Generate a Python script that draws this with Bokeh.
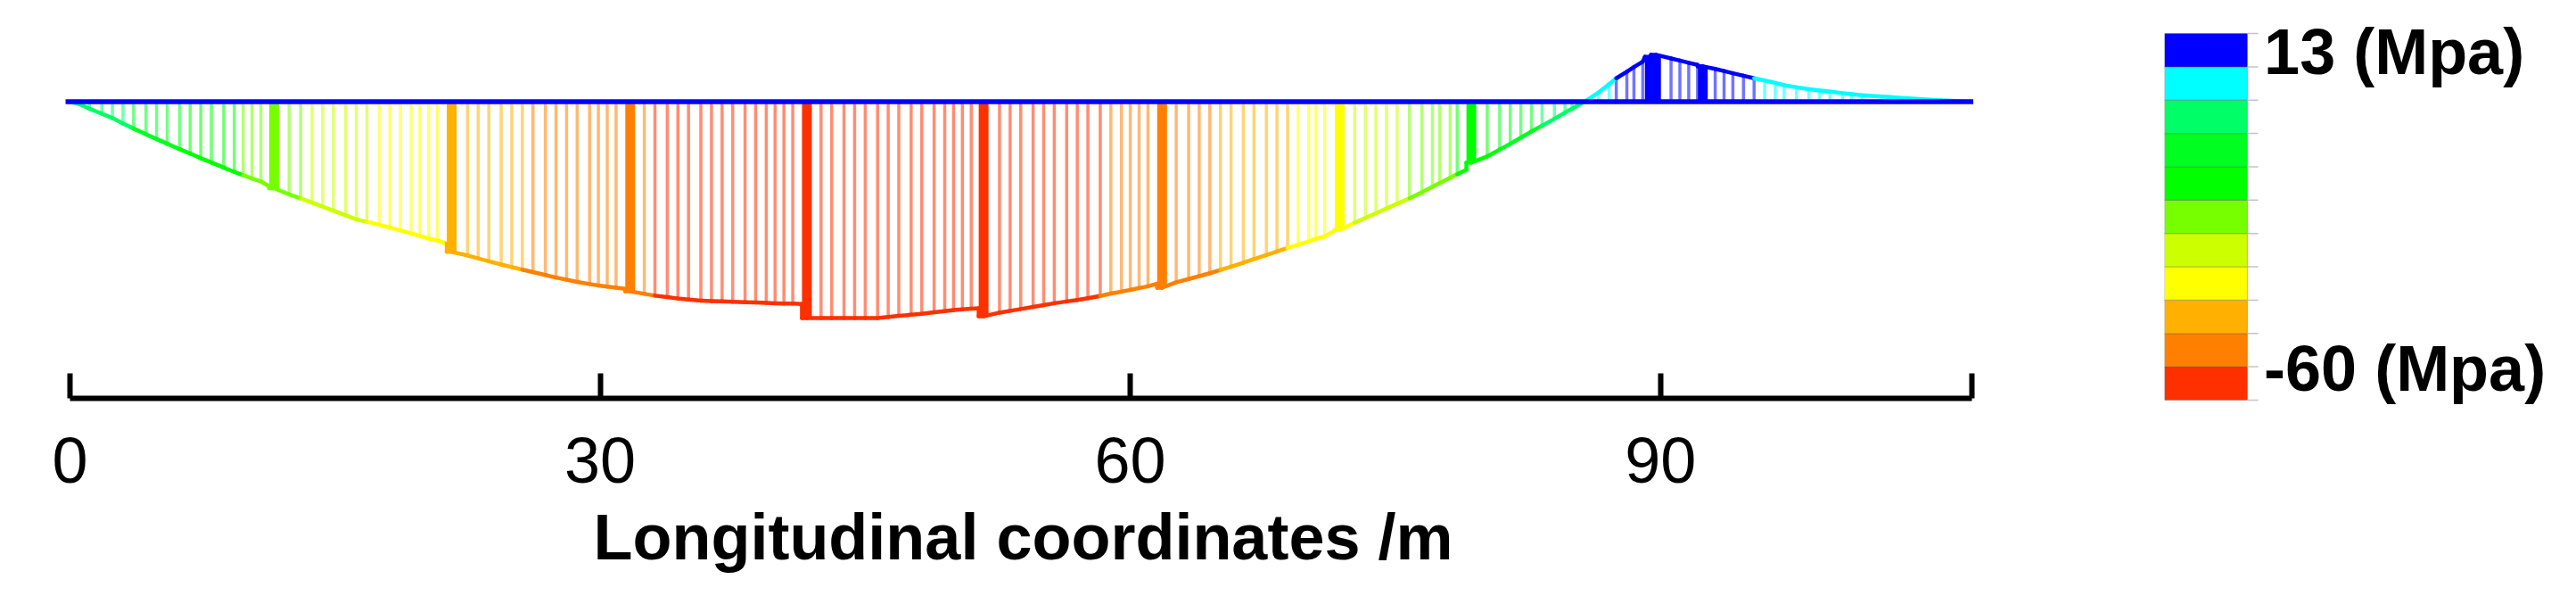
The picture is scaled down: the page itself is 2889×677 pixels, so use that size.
from bokeh.core.properties import value
from bokeh.embed import file_html
from bokeh.layouts import row
from bokeh.models import FixedTicker, Range1d
from bokeh.plotting import figure
from bokeh.resources import INLINE
from bokeh.transform import linear_cmap

# Longitudinal stations (m) and stress (MPa) of the closely spaced thin ordinates
thin_x = [0.0, 0.5, 1.1, 1.8, 2.4, 3.0, 3.6, 4.3, 4.9, 5.5, 6.2, 6.8, 7.4, 8.0, 8.7, 9.3, 9.8, 10.3, 10.8,
          12.4, 13.05, 13.7, 14.3, 14.9, 15.6, 16.2, 16.8, 17.5, 18.1, 18.7, 19.3, 19.8, 20.3, 20.8,
          22.5, 23.1, 23.7, 24.4, 25.0, 25.6, 26.2, 26.9, 27.5, 28.1, 28.7, 29.4, 29.9, 30.4, 30.9,
          32.5, 33.1, 33.8, 34.4, 35.0, 35.7, 36.3, 36.9, 37.5, 38.2, 38.8, 39.4, 39.9, 40.4, 40.9,
          42.5, 43.1, 43.8, 44.4, 45.0, 45.7, 46.3, 46.9, 47.6, 48.2, 48.9, 49.5, 50.0, 50.5, 51.0,
          52.6, 53.2, 53.8, 54.5, 55.1, 55.7, 56.4, 57.0, 57.6, 58.3, 58.9, 59.5, 60.0, 60.5, 61.0,
          62.6, 63.3, 63.9, 64.5, 65.1, 65.7, 66.4, 67.0, 67.7, 68.3, 68.9, 69.5, 70.1, 70.5, 71.0,
          72.7, 73.3, 73.9, 74.5, 75.1, 75.8, 76.5, 77.1, 77.5, 78.1, 78.5,
          80.2, 80.9, 81.5, 82.1, 82.7, 83.3, 84.0, 84.6, 85.0, 85.7,
          86.5, 87.1, 87.5, 88.1, 88.5, 89.0, 90.6, 91.1, 91.6, 92.1,
          93.1, 93.6, 94.1, 94.7, 95.3, 95.9, 96.5, 97.0, 97.7, 98.4, 99.0, 99.6, 100.3, 100.8, 101.4,
          102.9, 104.4, 105.9, 107.6]
thin_stress = [0.0, -0.6, -1.9, -3.3, -4.5, -6.0, -7.4, -9.0, -10.3, -11.6, -13.1, -14.3, -15.6, -16.8, -18.2, -19.4, -20.3, -21.2, -22.0,
               -25.6, -26.7, -27.9, -29.0, -30.1, -31.4, -32.5, -33.2, -34.0, -34.8, -35.6, -36.4, -37.1, -37.8, -38.4,
               -42.5, -43.3, -44.1, -45.0, -45.7, -46.4, -47.1, -47.9, -48.6, -49.2, -49.8, -50.4, -50.8, -51.1, -51.4,
               -53.1, -53.6, -54.0, -54.4, -54.7, -55.0, -55.1, -55.2, -55.3, -55.4, -55.5, -55.6, -55.7, -55.8, -55.8,
               -59.8, -59.8, -59.8, -59.8, -59.8, -59.8, -59.5, -59.2, -58.9, -58.6, -58.2, -57.9, -57.6, -57.4, -57.2,
               -58.3, -57.8, -57.3, -56.7, -56.2, -55.7, -55.2, -54.8, -54.3, -53.7, -53.0, -52.5, -52.0, -51.5, -51.0,
               -49.9, -49.0, -48.2, -47.4, -46.5, -45.6, -44.5, -43.5, -42.4, -41.4, -40.4, -39.5, -38.6, -37.9, -37.2,
               -33.4, -32.1, -30.8, -29.5, -28.2, -26.7, -25.0, -23.5, -22.5, -21.0, -20.0,
               -15.1, -13.2, -11.6, -9.9, -8.2, -6.6, -4.7, -3.0, -1.9, 0.0,
               2.6, 4.9, 6.5, 8.3, 9.6, 11.1, 12.0, 11.4, 10.8, 10.2,
               9.1, 8.5, 7.9, 7.2, 6.5, 5.9, 5.2, 4.6, 4.0, 3.5, 3.1, 2.8, 2.4, 2.1, 1.8,
               1.3, 0.8, 0.4, 0.0]

# Heavier ordinates at the section joints: stress just before and after each joint
joint_x = [11.55, 21.6, 31.7, 41.7, 51.7, 61.8, 71.85, 79.3, 89.4, 89.75, 92.4]
joint_before = [-23.4, -39.2, -51.7, -55.9, -57.1, -50.3, -35.6, -18.8, 12.4, 13.0, 9.8]
joint_stress = [-23.9, -41.5, -52.4, -59.8, -59.3, -51.4, -35.4, -16.8, 12.4, 13.0, 9.8]

# Colour scale
band_edges = [-60.0, -53.36, -46.73, -40.09, -33.45, -26.82, -20.18, -13.55, -6.91, -0.27, 6.36, 13.0]
band_colors = ["#ff3000", "#ff8000", "#ffb000", "#ffff00", "#ccff00", "#77ff00",
               "#00ff00", "#00ff20", "#00ff66", "#00ffff", "#0000ff"]
scale_labels = ["13 (Mpa)", "-60 (Mpa)"]
scale_label_y = [9.3, -53.7]

# Axis
x_ticks = [0, 30, 60, 90, 107.6]
x_tick_labels = {0: "0", 30: "30", 60: "60", 90: "90", 107.6: ""}
x_title = "Longitudinal coordinates /m"
beam_x = [-0.25, 107.7]
beam_y = [0.0, 0.0]

FONT = "Liberation Sans"
low, high = band_edges[0], band_edges[-1]


def stress_cmap(field):
    return linear_cmap(field, band_colors, low, high, low_color=band_colors[0], high_color=band_colors[-1])


# Main diagram
main = figure(width=2282, height=661, output_backend="svg", toolbar_location=None,
              x_range=Range1d(-1.413, 109.29), y_range=Range1d(-82.0, 26.05),
              y_axis_location=None, outline_line_color=None, frame_align=False,
              min_border_left=50, min_border_right=38, min_border_top=8, min_border_bottom=215)
main.grid.visible = False

main.segment(x0="x", y0=0, x1="x", y1="s", source={"x": thin_x, "s": thin_stress},
             line_color=stress_cmap("s"), line_width=3.5, line_alpha=0.55)
main.segment(x0="x", y0=0, x1="x", y1="s", source={"x": joint_x, "s": joint_stress},
             line_color=stress_cmap("s"), line_width=11)

pts = list(zip(thin_x, thin_stress))
for jx, jb, ja in zip(joint_x, joint_before, joint_stress):
    pts += [(jx - 0.28, jb), (jx - 0.279, ja), (jx, ja)]
pts.sort(key=lambda p: p[0])
main.segment(x0="x0", y0="y0", x1="x1", y1="y1",
             source={"x0": [p[0] for p in pts[:-1]], "y0": [p[1] for p in pts[:-1]],
                     "x1": [p[0] for p in pts[1:]], "y1": [p[1] for p in pts[1:]],
                     "m": [(a[1] + b[1]) / 2 for a, b in zip(pts[:-1], pts[1:])]},
             line_color=stress_cmap("m"), line_width=4.5, line_cap="round")
main.line(beam_x, beam_y, line_color="#0000ff", line_width=5.5)

ax = main.xaxis[0]
ax.bounds = (0, 107.6)
ax.ticker = FixedTicker(ticks=x_ticks)
ax.major_label_overrides = x_tick_labels
ax.axis_line_color = "#000000"
ax.axis_line_width = 6
ax.major_tick_line_color = "#000000"
ax.major_tick_line_width = 6
ax.major_tick_in = 28
ax.major_tick_out = 0
ax.minor_tick_line_color = None
ax.major_label_text_font = FONT
ax.major_label_text_font_size = "72px"
ax.major_label_text_color = "#000000"
ax.major_label_standoff = 44
ax.axis_label = x_title
ax.axis_label_text_font = FONT
ax.axis_label_text_font_size = "72px"
ax.axis_label_text_font_style = "bold"
ax.axis_label_text_color = "#000000"
ax.axis_label_standoff = 18

# Colour scale panel: the range runs past the bar so the labels are not clipped
scale = figure(width=591, height=661, output_backend="svg", toolbar_location=None,
               x_range=Range1d(0, 4.796), y_range=Range1d(-63.91, 16.02),
               x_axis_location=None, y_axis_location=None, outline_line_color=None, frame_align=False,
               min_border_left=145, min_border_right=0, min_border_top=20, min_border_bottom=191)
scale.grid.visible = False
scale.quad(left=0, right=1, bottom=band_edges[:-1], top=band_edges[1:],
           fill_color=band_colors, line_color="#606060", line_alpha=0.35, line_width=1.2)
scale.segment(x0=1, y0=band_edges, x1=1.13, y1=band_edges, line_color="#c4c4c4", line_width=1.5)
scale.text(x=[1.2, 1.2], y=scale_label_y, text=scale_labels, text_font=value(FONT), text_font_size="72px",
           text_font_style="bold", text_baseline="middle", text_align="left", text_color="#000000")

open("out.html", "w").write(file_html(row(main, scale, spacing=0), INLINE))
